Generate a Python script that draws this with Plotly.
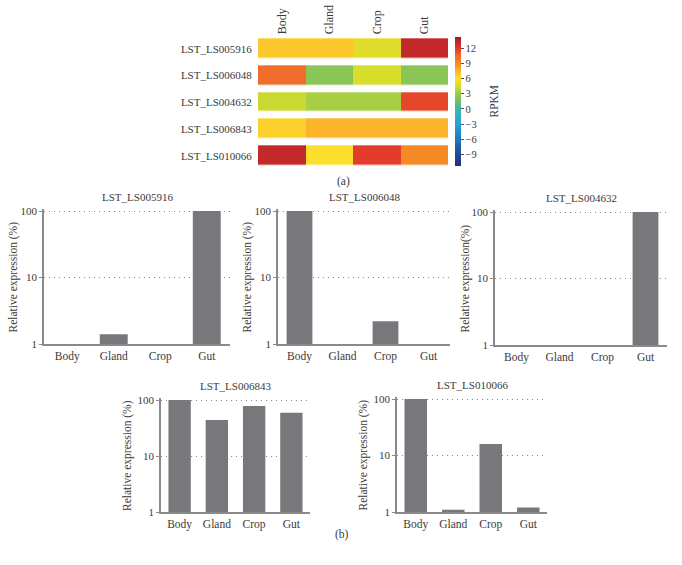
import plotly.graph_objects as go

W, H = 682, 565

tissues = ["Body", "Gland", "Crop", "Gut"]
genes = ["LST_LS005916", "LST_LS006048", "LST_LS004632", "LST_LS006843", "LST_LS010066"]

# RPKM heatmap values (rows = genes, cols = tissues)
rpkm_005916 = [6.8, 6.8, 4.9, 13.0]
rpkm_006048 = [10.3, 2.4, 4.6, 2.4]
rpkm_004632 = [4.2, 3.3, 3.3, 11.5]
rpkm_006843 = [6.5, 7.5, 7.5, 7.5]
rpkm_010066 = [13.0, 6.0, 11.8, 9.0]

# Relative expression (%) per gene
rel_005916 = [1, 1.4, 1, 100]
rel_006048 = [100, 1, 2.2, 1]
rel_004632 = [1, 1, 1, 100]
rel_006843 = [100, 44, 78, 59]
rel_010066 = [100, 1.1, 16, 1.2]

ytitles = ["Relative expression (%)", "Relative expression (%)", "Relative expression(%)",
           "Relative expression (%)", "Relative expression (%)"]

cb_ticks = [12, 9, 6, 3, 0, -3, -6, -9]

FONT = "Liberation Serif"
TXT = "#3a3a3a"
BAR = "#78787c"
AX = "#8a8a8a"

def px_x(a):
    return a / W

def px_y(b):
    return 1 - b / H

def dom_x(a, b):
    return [a / W, b / W]

def dom_y(top, bottom):
    return [1 - bottom / H, 1 - top / H]

zmin, zmax = -11.3, 14.2
stops = [(-11.3, '#27306f'), (-8, '#2257a6'), (-3, '#27a3d5'), (0, '#3fb5a8'), (1.5, '#6cbf6a'),
         (3, '#9ccb4a'), (4.5, '#d6dd2b'), (6, '#fcdf2c'), (7.5, '#fcb42a'), (9, '#f58a25'),
         (10.5, '#ee6a2d'), (12, '#e2352a'), (14.2, '#9e1b2c')]
colorscale = [[(v - zmin) / (zmax - zmin), c] for v, c in stops]

fig = go.Figure()

z = [rpkm_005916, rpkm_006048, rpkm_004632, rpkm_006843, rpkm_010066]
fig.add_trace(go.Heatmap(
    z=z, x=tissues, y=genes, xaxis="x6", yaxis="y6",
    colorscale=colorscale, zmin=zmin, zmax=zmax, ygap=7.5, xgap=0,
    colorbar=dict(
        x=px_x(455), xanchor="left", y=px_y(101.5), yanchor="middle",
        lenmode="pixels", len=129, thickness=6, thicknessmode="pixels",
        xpad=0, ypad=0, outlinewidth=0,
        tickvals=cb_ticks, ticks="outside", ticklen=3, tickcolor="#555",
        tickfont=dict(family=FONT, size=10.5, color=TXT),
    ),
    showscale=True,
))

rels = [rel_005916, rel_006048, rel_004632, rel_006843, rel_010066]
panels = [
    (44, 230, 211, 344),
    (278, 450, 211, 344),
    (495, 667, 212, 345),
    (161, 310, 400, 512),
    (397, 547, 399, 512),
]
ytitle_off = [31, 31, 30, 34, 34]

layout = dict(
    width=W, height=H, margin=dict(l=0, r=0, t=0, b=0, autoexpand=False),
    paper_bgcolor="white", plot_bgcolor="white", showlegend=False,
    font=dict(family=FONT, color=TXT),
)
annotations = []
for i, (vals, (x0, x1, y0, y1)) in enumerate(zip(rels, panels)):
    n = i + 1
    xa = "x" if n == 1 else f"x{n}"
    ya = "y" if n == 1 else f"y{n}"
    # extend range a hair above 100 so the top gridline is drawn
    pxdec = (y1 - y0) / 2.0
    extra = 1.6 / pxdec
    fig.add_trace(go.Bar(x=tissues, y=vals, xaxis=xa, yaxis=ya, marker_color=BAR,
                         marker_line_width=0, width=0.6))
    layout[f"xaxis{'' if n == 1 else n}"] = dict(
        domain=dom_x(x0, x1), anchor=ya, range=[-0.5, 3.5], showline=True, linecolor=AX,
        linewidth=1.5, ticks="", showgrid=False, tickfont=dict(family=FONT, size=11.5, color=TXT),
        fixedrange=True, automargin=False,
    )
    layout[f"yaxis{'' if n == 1 else n}"] = dict(
        domain=dom_y(y0 - 1.6, y1), anchor=xa, type="log", range=[0, 2 + extra], showline=True,
        linecolor=AX, linewidth=1.5, ticks="outside", ticklen=3, tickcolor=AX, tickvals=[1, 10, 100],
        ticktext=["1", "10", "100"], tickfont=dict(family=FONT, size=11, color=TXT),
        showgrid=True, gridcolor="#8a8a8a", griddash="1px,4px", gridwidth=1, zeroline=False,
        fixedrange=True, automargin=False,
    )
    annotations.append(dict(
        text=genes[i], x=px_x((x0 + x1) / 2), y=px_y(y0 - 14), xref="paper", yref="paper",
        showarrow=False, font=dict(family=FONT, size=11, color=TXT), xanchor="center", yanchor="middle",
    ))
    annotations.append(dict(
        text=ytitles[i], x=px_x(x0 - ytitle_off[i]), y=px_y((y0 + y1) / 2), xref="paper", yref="paper",
        showarrow=False, textangle=-90, font=dict(family=FONT, size=11.5, color=TXT),
        xanchor="center", yanchor="middle",
    ))

layout["xaxis6"] = dict(
    domain=dom_x(258, 448), anchor="y6", side="top", tickangle=-90, showline=False, ticks="",
    showgrid=False, zeroline=False, tickfont=dict(family=FONT, size=12, color=TXT), fixedrange=True,
    automargin=False,
)
layout["yaxis6"] = dict(
    domain=dom_y(35.3, 169.4), anchor="x6", autorange="reversed", showline=False,
    ticks="outside", ticklen=3, tickcolor="rgba(0,0,0,0)",
    showgrid=False, zeroline=False, tickfont=dict(family=FONT, size=11, color=TXT), fixedrange=True,
    automargin=False,
)

# colorbar title
annotations.append(dict(text="RPKM", x=px_x(493), y=px_y(101.5), xref="paper", yref="paper",
                        xanchor="center", yanchor="middle", textangle=-90,
                        showarrow=False, font=dict(family=FONT, size=11.5, color=TXT)))
annotations.append(dict(text="(a)", x=px_x(343), y=px_y(181), xref="paper", yref="paper",
                        xanchor="center", yanchor="middle",
                        showarrow=False, font=dict(family=FONT, size=11.5, color=TXT)))
annotations.append(dict(text="(b)", x=px_x(342), y=px_y(534), xref="paper", yref="paper",
                        xanchor="center", yanchor="middle",
                        showarrow=False, font=dict(family=FONT, size=11.5, color=TXT)))
layout["annotations"] = annotations

fig.update_layout(**layout)
fig.write_html("out.html", config={"displayModeBar": False},
               post_script="document.body.style.margin='0';")
